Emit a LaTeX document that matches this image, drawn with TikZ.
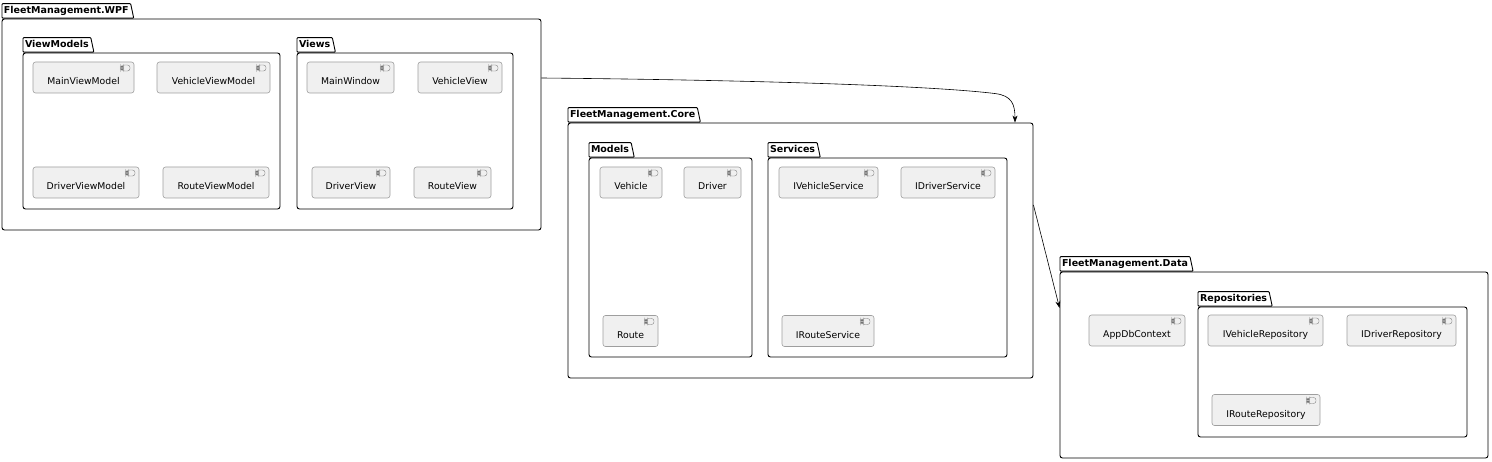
\documentclass[tikz,border=0pt]{standalone}
\usepackage{fontspec}
\setmainfont{DejaVu Sans}
\usetikzlibrary{arrows.meta, shapes.geometric}

\begin{document}
\begin{tikzpicture}[x=1pt, y=-1pt,
        pkg/.style={draw, line width=0.9pt, rounded corners=2.5pt, inner sep=0pt},
        pkgtab/.style={draw, line width=0.9pt, trapezium, trapezium left angle=90, trapezium right angle=78,
            rounded corners=0.8pt, anchor=bottom left corner, inner xsep=2pt, inner ysep=3pt,
            text height=7pt, text depth=1.5pt, font=\fontsize{9.5}{11}\selectfont\bfseries},
        comp/.style={draw=black!38, fill=black!6, line width=0.6pt, rounded corners=2.5pt,
            minimum height=31pt, text height=15pt, text depth=0pt, inner sep=0pt,
            font=\fontsize{9.3}{11}\selectfont,
            path picture={
                \draw[black!55, line width=0.35pt, fill=black!6]
                    ([xshift=-12pt, yshift=-3pt]path picture bounding box.north east) rectangle ++(8pt,-6pt);
                \draw[black!55, line width=0.35pt, fill=black!6]
                    ([xshift=-13.3pt, yshift=-4.2pt]path picture bounding box.north east) rectangle ++(2.6pt,-1.1pt);
                \draw[black!55, line width=0.35pt, fill=black!6]
                    ([xshift=-13.3pt, yshift=-6.7pt]path picture bounding box.north east) rectangle ++(2.6pt,-1.1pt);
            }},
        dep/.style={-{Stealth[length=7pt, width=5pt]}, line width=0.6pt}
    ]
    \useasboundingbox (0,0) rectangle (1492,462);

    % FleetManagement.WPF
    \node[pkg, minimum width=539pt, minimum height=211pt] (wpf) at (271.5,124.5) {};
    \node[pkgtab] (wpftab) at (wpf.north west) {FleetManagement.WPF};
    \node[pkg, minimum width=257pt, minimum height=156pt] (viewmodels) at (151.5,131) {};
    \node[pkgtab] (viewmodelstab) at (viewmodels.north west) {ViewModels};
    \node[comp, minimum width=101pt] (mainvm) at (83.5,77.5) {MainViewModel};
    \node[comp, minimum width=113pt] (vehiclevm) at (213.5,77.5) {VehicleViewModel};
    \node[comp, minimum width=106pt] (drivervm) at (86,182.5) {DriverViewModel};
    \node[comp, minimum width=106pt] (routevm) at (216,182.5) {RouteViewModel};
    \node[pkg, minimum width=216pt, minimum height=156pt] (views) at (405,131) {};
    \node[pkgtab] (viewstab) at (views.north west) {Views};
    \node[comp, minimum width=87pt] (mainwin) at (350.5,77.5) {MainWindow};
    \node[comp, minimum width=84pt] (vehicleview) at (460,77.5) {VehicleView};
    \node[comp, minimum width=78pt] (driverview) at (351,182.5) {DriverView};
    \node[comp, minimum width=77pt] (routeview) at (452.5,182.5) {RouteView};

    % FleetManagement.Core
    \node[pkg, minimum width=465pt, minimum height=255pt] (core) at (800.5,250.5) {};
    \node[pkgtab] (coretab) at (core.north west) {FleetManagement.Core};
    \node[pkg, minimum width=163pt, minimum height=199pt] (models) at (670.5,257.5) {};
    \node[pkgtab] (modelstab) at (models.north west) {Models};
    \node[comp, minimum width=62pt] (vehicle) at (631,182.5) {Vehicle};
    \node[comp, minimum width=57pt] (driver) at (712.5,182.5) {Driver};
    \node[comp, minimum width=55pt] (route) at (630.5,331) {Route};
    \node[pkg, minimum width=239pt, minimum height=199pt] (services) at (887.5,257.5) {};
    \node[pkgtab] (servicestab) at (services.north west) {Services};
    \node[comp, minimum width=99pt] (ivehiclesvc) at (828.5,182.5) {IVehicleService};
    \node[comp, minimum width=94pt] (idriversvc) at (948,182.5) {IDriverService};
    \node[comp, minimum width=92pt] (iroutesvc) at (828,331) {IRouteService};

    % FleetManagement.Data
    \node[pkg, minimum width=428pt, minimum height=186pt] (data) at (1274,365) {};
    \node[pkgtab] (datatab) at (data.north west) {FleetManagement.Data};
    \node[comp, minimum width=96pt] (appdb) at (1137,330.5) {AppDbContext};
    \node[pkg, minimum width=269pt, minimum height=130pt] (repos) at (1332.5,372) {};
    \node[pkgtab] (repostab) at (repos.north west) {Repositories};
    \node[comp, minimum width=115pt] (ivehiclerepo) at (1265.5,330.5) {IVehicleRepository};
    \node[comp, minimum width=109pt] (idriverrepo) at (1401.5,330.5) {IDriverRepository};
    \node[comp, minimum width=108pt] (irouterepo) at (1266,410) {IRouteRepository};

    \draw[dep] ([yshift=46.5pt]wpf.east) .. controls +(209,2) and +(-65,-8) .. ([xshift=194.5pt, yshift=29pt]core.north)
        .. controls +(17,2) and +(0,-18) .. ([xshift=214.5pt]core.north);
    \draw[dep] ([yshift=45.5pt]core.east) -- ([yshift=57pt]data.west);
\end{tikzpicture}
\end{document}
